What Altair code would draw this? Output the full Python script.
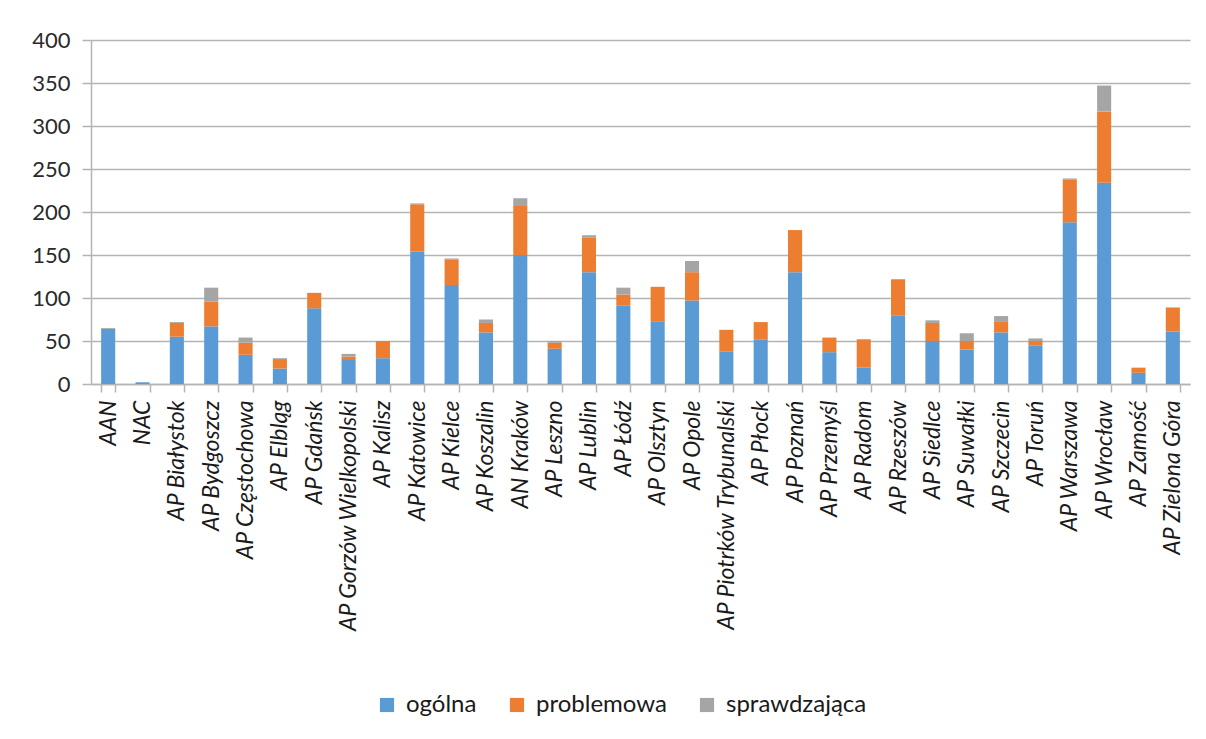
import altair as alt
import pandas as pd

categories = [
    "AAN", "NAC", "AP Białystok", "AP Bydgoszcz", "AP Częstochowa", "AP Elbląg",
    "AP Gdańsk", "AP Gorzów Wielkopolski", "AP Kalisz", "AP Katowice", "AP Kielce",
    "AP Koszalin", "AN Kraków", "AP Leszno", "AP Lublin", "AP Łódź", "AP Olsztyn",
    "AP Opole", "AP Piotrków Trybunalski", "AP Płock", "AP Poznań", "AP Przemyśl",
    "AP Radom", "AP Rzeszów", "AP Siedlce", "AP Suwałki", "AP Szczecin", "AP Toruń",
    "AP Warszawa", "AP Wrocław", "AP Zamość", "AP Zielona Góra",
]
ogolna = [64, 2, 55, 67, 34, 18, 88, 29, 30, 154, 115, 60, 150, 41, 130, 91, 73,
          97, 38, 52, 130, 37, 19, 80, 50, 40, 60, 45, 188, 234, 13, 61]
problemowa = [0, 0, 16, 29, 14, 11, 18, 3, 20, 55, 30, 11, 57, 7, 40, 13, 40,
              33, 25, 20, 49, 17, 33, 41, 21, 10, 13, 5, 50, 83, 6, 28]
sprawdzajaca = [1, 0, 1, 16, 6, 1, 0, 3, 0, 1, 1, 4, 9, 2, 3, 8, 0,
                13, 0, 0, 0, 0, 0, 1, 3, 9, 6, 3, 1, 30, 0, 0]
series = ["ogólna", "problemowa", "sprawdzająca"]
colors = ["#5B9BD5", "#ED7D31", "#A5A5A5"]
y_ticks = [0, 50, 100, 150, 200, 250, 300, 350, 400]

rows = []
for i, c in enumerate(categories):
    for k, vals in enumerate([ogolna, problemowa, sprawdzajaca]):
        rows.append({"archiwum": c, "typ": series[k], "kolejnosc": k, "liczba": vals[i]})
df = pd.DataFrame(rows)

FONT = "Lato"
GRID = "#B4B4B4"

chart = alt.Chart(df).mark_bar().encode(
    x=alt.X(
        "archiwum:N",
        sort=categories,
        scale=alt.Scale(paddingInner=0.59, paddingOuter=0.295),
        axis=alt.Axis(
            title=None, labelAngle=-90, labelFont=FONT, labelFontStyle="italic",
            labelFontSize=23, labelColor="#1a1a1a", labelLimit=400,
            labelOverlap=False, labelPadding=8, tickBand="extent", tickSize=8,
            tickColor=GRID, domainColor=GRID, domainWidth=1.5, tickWidth=1.5,
            grid=False,
        ),
    ),
    y=alt.Y(
        "liczba:Q",
        stack="zero",
        scale=alt.Scale(domain=[0, 400], nice=False),
        axis=alt.Axis(
            title=None, values=y_ticks, labelFont=FONT, labelFontSize=22,
            labelColor="#2a2a2a", labelPadding=12, tickSize=9, tickColor=GRID,
            tickWidth=1.5, domainColor=GRID, domainWidth=1.5, gridColor=GRID,
            gridWidth=1.5,
        ),
    ),
    color=alt.Color(
        "typ:N",
        scale=alt.Scale(domain=series, range=colors),
        legend=alt.Legend(
            title=None, orient="none", legendX=284, legendY=653,
            direction="horizontal", columns=3, symbolType="square",
            symbolSize=200, symbolStrokeWidth=0, labelFont=FONT,
            labelFontSize=24, labelColor="#1a1a1a", columnPadding=28,
            labelOffset=7,
        ),
    ),
    order=alt.Order("kolejnosc:Q"),
).properties(
    width=1099,
    height=344,
    autosize=alt.AutoSizeParams(type="none"),
    padding={"left": 83, "top": 32, "right": 6, "bottom": 345},
).configure_view(stroke=None)

chart.save("out.html", embed_options={"renderer": "svg", "actions": False})
